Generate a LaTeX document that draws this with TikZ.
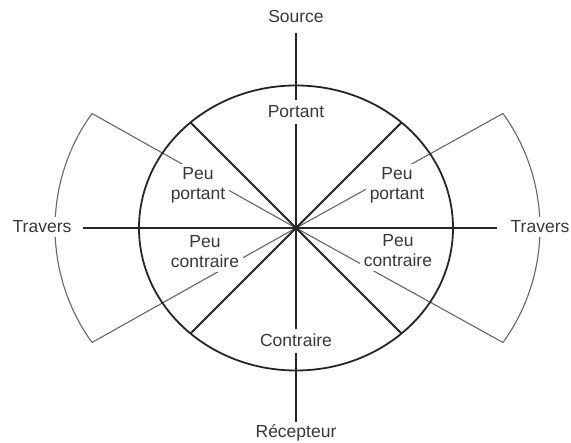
\documentclass[tikz,border=0pt]{standalone}
\usepackage{fontspec}
\setmainfont{Liberation Sans}
\begin{document}
\begin{tikzpicture}[x=1pt,y=1pt,
  lbl/.style={font=\fontsize{17.5}{20}\selectfont, text=black!78},
  blank/.style={lbl, fill=white, inner sep=4pt},
  heavy/.style={line width=1.8pt, draw=black!85},
  thinline/.style={line width=1.1pt, draw=black!60},
]
\useasboundingbox (0,0) rectangle (571,443);
\coordinate (C) at (296,215);
\coordinate (top) at (296,410);
\coordinate (bot) at (296,21);
\coordinate (lft) at (83,215);
\coordinate (rgt) at (497,215);
\coordinate (d1) at (190.5,320.5);
\coordinate (d2) at (401.5,320.5);
\coordinate (d3) at (190.5,109.5);
\coordinate (d4) at (401.5,109.5);
\coordinate (lu) at (92,329.5);
\coordinate (ll) at (92,100.5);
\coordinate (ru) at (503,329.5);
\coordinate (rl) at (503,100.5);
% outer sectors
\draw[thinline] (lu) arc[start angle=144.2, end angle=215.8, radius=195.7];
\draw[thinline] (rl) arc[start angle=-35.8, end angle=35.8, radius=195.7];
\draw[thinline] (C) -- (lu);
\draw[thinline] (C) -- (ll);
\draw[thinline] (C) -- (ru);
\draw[thinline] (C) -- (rl);
% ellipse and axes
\draw[heavy] (C) ellipse [x radius=157, y radius=142.5];
\draw[heavy] (top) -- (bot);
\draw[heavy] (lft) -- (rgt);
\draw[heavy] (d1) -- (d4);
\draw[heavy] (d2) -- (d3);
% labels
\node[lbl, anchor=base] (source) at (296,420) {Source};
\node[lbl, anchor=base] (recep) at (296,5) {Récepteur};
\node[blank, anchor=base, inner ysep=6pt] (portant) at (296,325) {Portant};
\node[blank, anchor=base, inner ysep=5.5pt] (contraire) at (296,96) {Contraire};
\node[blank, anchor=base] (travL) at (42,210) {Travers};
\node[blank, anchor=base] (travR) at (540,210) {Travers};
\node[blank, align=center] (ppL) at (198,257.3) {Peu\\portant};
\node[blank, align=center] (ppR) at (397,257.3) {Peu\\portant};
\node[blank, align=center] (pcL) at (205,191.5) {Peu\\contraire};
\node[blank, align=center] (pcR) at (398,192) {Peu\\contraire};
\end{tikzpicture}
\end{document}
